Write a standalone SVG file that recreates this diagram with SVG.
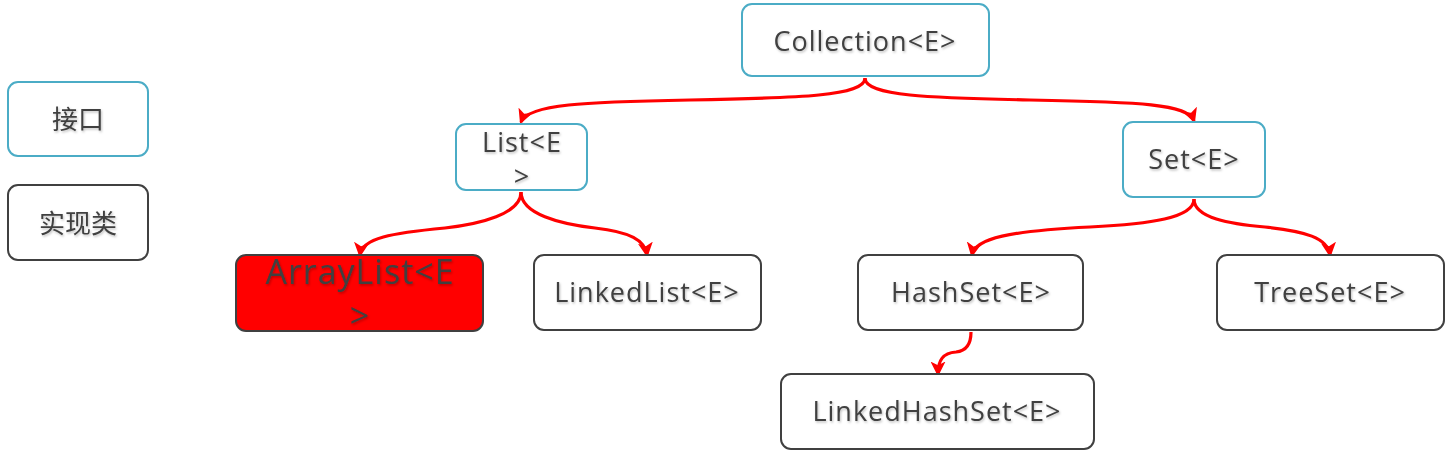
<svg xmlns="http://www.w3.org/2000/svg" width="1450" height="456" viewBox="0 0 1450 456">
<defs>
<marker id="arr" viewBox="0 0 12 12" refX="10" refY="6" markerWidth="15" markerHeight="15" markerUnits="userSpaceOnUse" orient="auto">
<path d="M0,0 L12,6 L0,12 L3,6 Z" fill="#ff0000"/>
</marker>
<filter id="sh" x="-10%" y="-10%" width="120%" height="130%">
<feDropShadow dx="1" dy="1.5" stdDeviation="1" flood-color="#000" flood-opacity="0.25"/>
</filter>
</defs>
<style>
.iface{fill:#ffffff;stroke:#4bacc6;stroke-width:2}
.impl{fill:#ffffff;stroke:#404040;stroke-width:2}
.hot{fill:#ff0000;stroke:#404040;stroke-width:2}
text{font-family:"Open Sans","Noto Sans","Noto Sans CJK SC",sans-serif;fill:#404040;text-anchor:middle;filter:url(#sh)}
.t{font-size:27px;letter-spacing:1px}
.cjk{font-family:"Noto Sans CJK SC",sans-serif;font-size:26px}
.big{font-size:34px;letter-spacing:1px}
.con{fill:none;stroke:#ff0000;stroke-width:3.2;marker-end:url(#arr)}
</style>
<rect width="1450" height="456" fill="#ffffff"/>
<g id="legend-interface"><rect class="iface" x="8" y="82" width="140" height="74" rx="10"/><text class="cjk" x="78" y="129">接口</text></g>
<g id="legend-impl"><rect class="impl" x="8" y="185" width="140" height="75" rx="10"/><text class="cjk" x="78" y="233">实现类</text></g>
<g id="connectors">
<path class="con" d="M865,78 C865,96 800,98 690,100 C585,102 528,104 521,122"/>
<path class="con" d="M865,78 C865,96 930,98 1030,100 C1140,102 1188,104 1194,121"/>
<path class="con" d="M521,192 C521,214 480,224 445,228 C392,233 362,238 360,255"/>
<path class="con" d="M521,192 C521,214 560,224 595,228 C630,232 645,240 647,255"/>
<path class="con" d="M1194,199 C1194,218 1150,224 1090,227 C1010,231 975,238 972,255"/>
<path class="con" d="M1194,199 C1194,218 1230,224 1265,227 C1305,231 1328,238 1330,255"/>
<path class="con" d="M971,332 C971,345 966,351 956,352 C943,353 938,360 938,374"/>
</g>
<g id="collection"><rect class="iface" x="742" y="4" width="247" height="72" rx="10"/><text class="t" x="865" y="51">Collection&lt;E&gt;</text></g>
<g id="list"><rect class="iface" x="456" y="124" width="131" height="66" rx="10"/><text class="t" x="522" y="152">List&lt;E</text><text class="t" x="522" y="186">&gt;</text></g>
<g id="set"><rect class="iface" x="1123" y="122" width="142" height="75" rx="10"/><text class="t" x="1194" y="169">Set&lt;E&gt;</text></g>
<g id="arraylist"><rect class="hot" x="236" y="255" width="247" height="76" rx="10"/><text class="big" x="360" y="284">ArrayList&lt;E</text><text class="big" x="360" y="328">&gt;</text></g>
<g id="linkedlist"><rect class="impl" x="534" y="255" width="227" height="75" rx="10"/><text class="t" x="647" y="302">LinkedList&lt;E&gt;</text></g>
<g id="hashset"><rect class="impl" x="858" y="255" width="225" height="75" rx="10"/><text class="t" x="971" y="302">HashSet&lt;E&gt;</text></g>
<g id="treeset"><rect class="impl" x="1217" y="255" width="227" height="75" rx="10"/><text class="t" x="1330" y="302">TreeSet&lt;E&gt;</text></g>
<g id="linkedhashset"><rect class="impl" x="781" y="374" width="313" height="75" rx="10"/><text class="t" x="937" y="421">LinkedHashSet&lt;E&gt;</text></g>
</svg>
